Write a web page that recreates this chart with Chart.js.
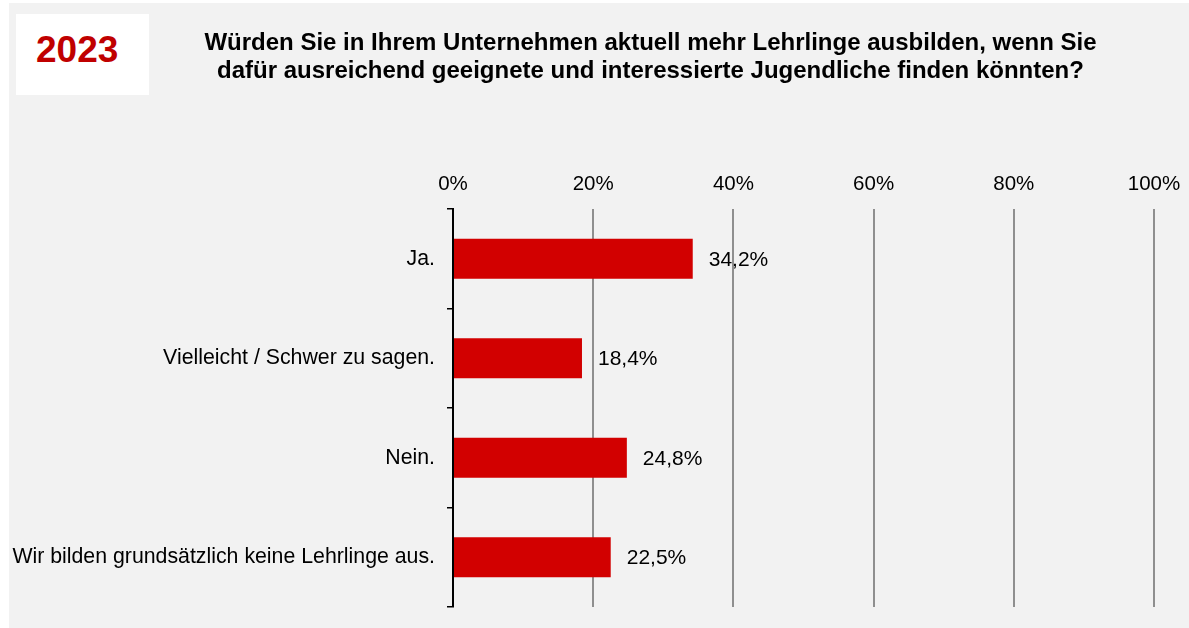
<!DOCTYPE html>
<html>
<head>
<meta charset="utf-8">
<script src="https://cdn.jsdelivr.net/npm/chart.js@4/dist/chart.umd.min.js"></script>
<style>
  html, body { margin: 0; padding: 0; background: #ffffff; }
  body { width: 1189px; height: 628px; position: relative; overflow: hidden; font-family: "Liberation Sans", Arial, sans-serif; }
  #panel { position: absolute; left: 9px; top: 3px; width: 1180px; height: 625px; background: #f2f2f2; }
  #yearBox { position: absolute; left: 16px; top: 14px; width: 133px; height: 81px; background: #ffffff; }
  #yearBox span { position: absolute; left: 20px; top: 0; line-height: 72px; color: #c00000; font-weight: bold; font-size: 37px; }
  #title { position: absolute; left: 190px; top: 28px; width: 921px; text-align: center; font-weight: bold;
           font-size: 24px; line-height: 28px; color: #000; }
  #chartWrap { position: absolute; left: 0; top: 0; width: 1180px; height: 625px; }
</style>
</head>
<body>
<div id="panel">
  <div id="chartWrap"><canvas id="c"></canvas></div>
</div>
<div id="yearBox"><span>2023</span></div>
<div id="title">Würden Sie in Ihrem Unternehmen aktuell mehr Lehrlinge ausbilden, wenn Sie<br>dafür ausreichend geeignete und interessierte Jugendliche finden könnten?</div>
<script>
const categories = [
  "Ja.",
  "Vielleicht / Schwer zu sagen.",
  "Nein.",
  "Wir bilden grundsätzlich keine Lehrlinge aus."
];
const values = [34.2, 18.4, 24.8, 22.5];
const xTickValues = [0, 20, 40, 60, 80, 100];

const FONT = '"Liberation Sans", Arial, sans-serif';

const valueLabels = {
  id: 'valueLabels',
  afterDatasetsDraw(chart) {
    const ctx = chart.ctx;
    const meta = chart.getDatasetMeta(0);
    ctx.save();
    ctx.font = '21px ' + FONT;
    ctx.fillStyle = '#000';
    ctx.textAlign = 'left';
    ctx.textBaseline = 'middle';
    meta.data.forEach((bar, i) => {
      const txt = values[i].toFixed(1).replace('.', ',') + '%';
      ctx.fillText(txt, bar.x + 16, bar.y + 1);
    });
    ctx.restore();
  }
};

new Chart(document.getElementById('c'), {
  type: 'bar',
  data: {
    labels: categories,
    datasets: [{
      data: values,
      backgroundColor: '#d20000',
      borderWidth: 0,
      categoryPercentage: 1,
      barPercentage: 0.4
    }]
  },
  options: {
    indexAxis: 'y',
    responsive: true,
    maintainAspectRatio: false,
    animation: false,
    layout: { padding: { left: 0, right: 35, top: 0, bottom: 21 } },
    plugins: { legend: { display: false }, tooltip: { enabled: false } },
    scales: {
      x: {
        position: 'top',
        min: 0,
        max: 100,
        afterBuildTicks(scale) { scale.ticks = xTickValues.map(v => ({ value: v })); },
        afterFit(scale) {
          scale.height = 206;
          scale.paddingLeft = 0;
          scale.paddingRight = 0;
        },
        ticks: {
          callback: v => v + '%',
          color: '#000',
          font: { family: FONT, size: 20.5 },
          padding: 12,
          maxRotation: 0
        },
        grid: {
          color: ctx => (ctx.tick && ctx.tick.value === 0) ? 'rgba(0,0,0,0)' : '#8f8f8f',
          lineWidth: 2,
          drawTicks: false
        },
        border: { display: false }
      },
      y: {
        afterFit(scale) {
          scale.width = 444;
          scale.paddingTop = 0;
          scale.paddingBottom = 0;
        },
        ticks: {
          color: '#000',
          font: { family: FONT, size: 21.3 },
          padding: 12
        },
        grid: {
          drawOnChartArea: false,
          drawTicks: true,
          tickLength: 6,
          color: '#000',
          lineWidth: 1.5
        },
        border: { display: true, color: '#000', width: 2 }
      }
    }
  },
  plugins: [valueLabels]
});
</script>
</body>
</html>
